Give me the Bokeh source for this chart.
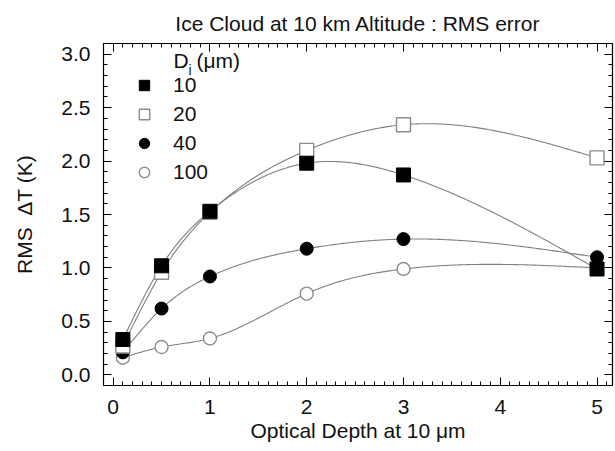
import numpy as np
from bokeh.plotting import figure
from bokeh.models import (ColumnDataSource, Legend, LegendItem, LinearAxis, Label,
                          BasicTicker, PrintfTickFormatter, Title)
from bokeh.embed import file_html
from bokeh.resources import INLINE

# ---- data ----
optical_depth = [0.1, 0.5, 1.0, 2.0, 3.0, 5.0]
rms_d10 = [0.33, 1.02, 1.53, 1.98, 1.87, 0.99]
rms_d20 = [0.27, 0.96, 1.52, 2.10, 2.34, 2.03]
rms_d40 = [0.21, 0.62, 0.92, 1.18, 1.27, 1.10]
rms_d100 = [0.16, 0.26, 0.34, 0.76, 0.99, 1.00]
series_labels = ["10", "20", "40", "100"]
title_text = "Ice Cloud at 10 km Altitude : RMS error"

FONT = "Liberation Sans"
FS = "21px"


def natural_spline(x, y, n=300):
    x = np.asarray(x, float)
    y = np.asarray(y, float)
    k = len(x)
    h = np.diff(x)
    A = np.zeros((k, k))
    b = np.zeros(k)
    A[0, 0] = 1.0
    A[-1, -1] = 1.0
    for i in range(1, k - 1):
        A[i, i - 1] = h[i - 1]
        A[i, i] = 2 * (h[i - 1] + h[i])
        A[i, i + 1] = h[i]
        b[i] = 3 * ((y[i + 1] - y[i]) / h[i] - (y[i] - y[i - 1]) / h[i - 1])
    c = np.linalg.solve(A, b)
    bb = (np.diff(y) / h) - h * (2 * c[:-1] + c[1:]) / 3
    d = np.diff(c) / (3 * h)
    xs = np.linspace(x[0], x[-1], n)
    idx = np.clip(np.searchsorted(x, xs) - 1, 0, k - 2)
    dx = xs - x[idx]
    ys = y[idx] + bb[idx] * dx + c[idx] * dx ** 2 + d[idx] * dx ** 3
    return xs, ys


p = figure(width=615, height=451, x_range=(-0.1, 5.16), y_range=(-0.1, 3.1),
           output_backend="svg", toolbar_location=None,
           min_border_left=103, min_border_right=3, min_border_top=43,
           min_border_bottom=66, x_axis_type=None, y_axis_type=None)
p.grid.visible = False
p.outline_line_color = "black"
p.outline_line_width = 1.2
p.background_fill_color = "white"
p.border_fill_color = "white"

p.title = Title(text=title_text, align="center", vertical_align="top",
                text_font=FONT, text_font_size=FS, text_font_style="normal",
                text_color="#111111", standoff=14)


def make_axis(kw, show_labels):
    ax = LinearAxis(**kw)
    ax.major_tick_in = 8
    ax.major_tick_out = 0
    ax.minor_tick_in = 4
    ax.minor_tick_out = 0
    ax.axis_line_color = "black"
    ax.major_tick_line_color = "black"
    ax.minor_tick_line_color = "black"
    ax.major_label_text_font = FONT
    ax.major_label_text_font_size = FS if show_labels else "0px"
    ax.major_label_text_color = "#111111"
    ax.axis_label_text_font = FONT
    ax.axis_label_text_font_size = FS
    ax.axis_label_text_font_style = "normal"
    ax.axis_label_text_color = "#111111"
    if not show_labels:
        ax.major_label_standoff = 0
    return ax


xt = BasicTicker(desired_num_ticks=6, num_minor_ticks=10)
yt = BasicTicker(desired_num_ticks=7, num_minor_ticks=5)

xb = make_axis(dict(ticker=xt, axis_label="Optical Depth at 10 \u03bcm"), True)
xb.major_label_standoff = 14
xb.axis_label_standoff = 2
p.add_layout(xb, "below")
yl = make_axis(dict(ticker=yt, axis_label="RMS\u00a0\u00a0\u0394T (K)",
                    formatter=PrintfTickFormatter(format="%.1f")), True)
yl.major_label_standoff = 13
yl.axis_label_standoff = 22
p.add_layout(yl, "left")
xa = make_axis(dict(ticker=xt), False)
p.add_layout(xa, "above")
yr = make_axis(dict(ticker=yt), False)
p.add_layout(yr, "right")

line_col = "#808080"
open_col = "#8c8c8c"
for ys_data in [rms_d10, rms_d20, rms_d40, rms_d100]:
    sx, sy = natural_spline(optical_depth, ys_data)
    p.line(sx, sy, line_color=line_col, line_width=1.1)

src = ColumnDataSource(dict(x=optical_depth, d10=rms_d10, d20=rms_d20,
                            d40=rms_d40, d100=rms_d100))
r100 = p.scatter("x", "d100", source=src, marker="circle", size=13,
                 fill_color="white", line_color=open_col, line_width=1.4)
r40 = p.scatter("x", "d40", source=src, marker="circle", size=13,
                fill_color="black", line_color="black")
r20 = p.scatter("x", "d20", source=src, marker="square", size=14,
                fill_color="white", line_color=open_col, line_width=1.4)
r10 = p.scatter("x", "d10", source=src, marker="square", size=14,
                fill_color="black", line_color="black")

legend = Legend(items=[LegendItem(label=lab, renderers=[r])
                       for lab, r in zip(series_labels, [r10, r20, r40, r100])],
                location="top_left", margin=0, padding=28, spacing=1,
                glyph_width=26, glyph_height=28, label_height=28, label_standoff=16,
                label_text_font=FONT, label_text_font_size=FS,
                label_text_color="#111111", label_text_baseline="middle",
                border_line_alpha=0, background_fill_alpha=0)
p.add_layout(legend, "center")

hdr = dict(x_units="screen", y_units="screen", text_font=FONT,
           text_color="#111111", text_baseline="middle")
p.add_layout(Label(x=70, y=325, text="D", text_font_size=FS, **hdr))
p.add_layout(Label(x=85, y=316, text="i", text_font_size="14px", **hdr))
p.add_layout(Label(x=93, y=325, text="(\u03bcm)", text_font_size=FS, **hdr))

open("out.html", "w").write(file_html(p, INLINE))
